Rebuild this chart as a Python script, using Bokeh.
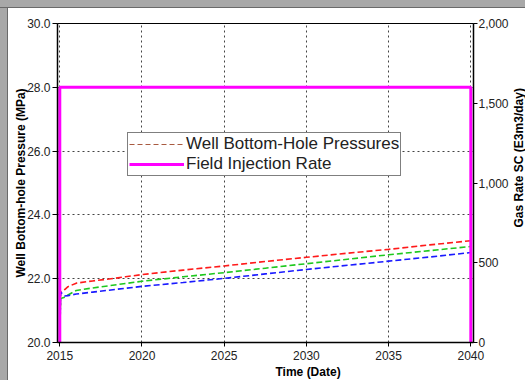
import math
from bokeh.plotting import figure
from bokeh.layouts import column, row
from bokeh.core.properties import value
from bokeh.models import (Range1d, LinearAxis, FixedTicker, NumeralTickFormatter,
                          Legend, LegendItem, Title, PrintfTickFormatter, Spacer)
from bokeh.embed import file_html
from bokeh.resources import INLINE

# ---- data ----
years = [2015.0, 2015.05, 2015.3, 2015.5, 2016, 2017, 2018, 2019, 2020,
         2022.5, 2025, 2027.5, 2030, 2032.5, 2035, 2037.5, 2040]
bhp_red = [20.3, 21.58, 21.66, 21.75, 21.86, 21.93, 21.99, 22.06, 22.13,
           22.27, 22.40, 22.54, 22.67, 22.80, 22.92, 23.06, 23.19]
bhp_green = [20.2, 21.38, 21.42, 21.49, 21.63, 21.71, 21.78, 21.85, 21.92,
             22.06, 22.19, 22.33, 22.47, 22.61, 22.75, 22.88, 23.01]
bhp_blue = [20.05, 21.58, 21.46, 21.47, 21.52, 21.58, 21.64, 21.70, 21.76,
            21.88, 22.01, 22.15, 22.29, 22.42, 22.55, 22.68, 22.82]
inj_years = [2015.0, 2015.0, 2040.0, 2040.0]
inj_rate = [0, 1600, 1600, 0]

x_ticks = [2015, 2020, 2025, 2030, 2035, 2040]
y_ticks = [20, 22, 24, 26, 28, 30]
y2_ticks = [0, 500, 1000, 1500, 2000]
legend_labels = ["Well Bottom-Hole Pressures", "Field Injection Rate"]
x_title = "Time (Date)"
y_title = "Well Bottom-hole Pressure (MPa)"
y2_title = "Gas Rate SC (E3m3/day)"

FONT = "Liberation Sans"
RATE_MAX = 2000

# layout (pixels)
H = 372
B_TOP, B_BOT = 15, 38
FRAME_H = H - B_TOP - B_BOT
P_W = 503            # main figure width
T_W = 517 - P_W      # strip holding the right-hand axis title

p = figure(width=P_W, height=H, output_backend="svg", toolbar_location=None,
           x_range=Range1d(2014.861, 2040.163), y_range=Range1d(20, 30),
           min_border_left=49, min_border_right=P_W - 49 - 418,
           min_border_top=B_TOP, min_border_bottom=B_BOT)
p.background_fill_color = "white"
p.border_fill_color = "white"
p.outline_line_color = "black"
p.outline_line_width = 1
p.extra_y_ranges = {"rate": Range1d(0, RATE_MAX)}

# axes
for ax in [p.xaxis[0], p.yaxis[0]]:
    ax.axis_line_color = "black"
    ax.axis_line_width = 1.5
    ax.major_tick_line_color = "black"
    ax.major_tick_in = 0
    ax.major_tick_out = 5
    ax.minor_tick_line_color = None
    ax.major_label_text_font = FONT
    ax.major_label_text_font_size = "12px"
    ax.major_label_text_color = "#222"
    ax.major_label_standoff = 2

p.xaxis[0].ticker = FixedTicker(ticks=x_ticks)
p.xaxis[0].major_tick_out = 4
p.xaxis[0].major_label_standoff = 4
p.yaxis[0].ticker = FixedTicker(ticks=y_ticks)
p.yaxis[0].formatter = PrintfTickFormatter(format="%.1f")
p.yaxis[0].axis_label = y_title
p.yaxis[0].axis_label_text_font = FONT
p.yaxis[0].axis_label_text_font_size = "12px"
p.yaxis[0].axis_label_text_font_style = "bold"
p.yaxis[0].axis_label_text_color = "black"
p.yaxis[0].axis_label_standoff = -4

rax = LinearAxis(y_range_name="rate", ticker=FixedTicker(ticks=y2_ticks),
                 formatter=NumeralTickFormatter(format="0,0"))
rax.axis_line_color = "black"
rax.axis_line_width = 1.5
rax.major_tick_line_color = "black"
rax.major_tick_in = 0
rax.major_tick_out = 4
rax.minor_tick_line_color = None
rax.major_label_text_font = FONT
rax.major_label_text_font_size = "12px"
rax.major_label_text_color = "#222"
rax.major_label_standoff = 1
p.add_layout(rax, "right")

# bottom title (offset from the frame's left edge)
p.add_layout(Title(text=x_title, align="left", offset=218, standoff=0,
                   text_font=FONT, text_font_size="12px",
                   text_font_style="bold", text_color="black"), "below")

# grid
p.xgrid.ticker = FixedTicker(ticks=x_ticks)
p.ygrid.ticker = FixedTicker(ticks=y_ticks)
for g in [p.xgrid[0], p.ygrid[0]]:
    g.grid_line_color = "#444444"
    g.grid_line_dash = "2 3"
    g.grid_line_width = 1

# pressure curves
p.line(years, bhp_red, line_color="#ff1a1a", line_width=1.6, line_dash="6 3")
p.line(years, bhp_green, line_color="#1ec81e", line_width=1.6, line_dash="6 3")
p.line(years, bhp_blue, line_color="#1a1aff", line_width=1.6, line_dash="6 3")

# legend stand-in for the pressure group (placed outside the visible x range)
dummy = p.line([2000, 2001], [25, 25], line_color="#a85a40", line_width=1.2,
               line_dash="5 3")

# injection rate
inj = p.line(inj_years, inj_rate, y_range_name="rate", line_color="#ff00ff",
             line_width=3)

legend = Legend(items=[LegendItem(label=legend_labels[0], renderers=[dummy]),
                       LegendItem(label=legend_labels[1], renderers=[inj])],
                location=(70, 166))
legend.label_text_font = FONT
legend.label_text_font_size = "17px"
legend.label_text_color = "#222"
legend.glyph_width = 55
legend.glyph_height = 20
legend.label_height = 20
legend.label_standoff = 2
legend.padding = 1
legend.spacing = 0
legend.margin = 0
legend.border_line_color = "black"
legend.border_line_width = 1
legend.background_fill_color = "white"
legend.background_fill_alpha = 1
p.add_layout(legend, "center")

# narrow strip with the right-hand axis title (reads bottom to top),
# vertically on the same rate scale as the main frame
ppu = FRAME_H / RATE_MAX
ttl = figure(width=T_W, height=H, output_backend="svg", toolbar_location=None,
             x_range=Range1d(0, T_W), y_range=Range1d(0, RATE_MAX),
             x_axis_type=None, y_axis_type=None,
             min_border_left=0, min_border_right=0,
             min_border_top=B_TOP, min_border_bottom=B_BOT)
ttl.outline_line_color = None
ttl.background_fill_color = "white"
ttl.border_fill_color = "white"
ttl.grid.visible = False
ttl.text(x=[T_W / 2], y=[184.7 / ppu], text=[y2_title], angle=math.pi / 2,
         text_align="center", text_baseline="middle",
         text_font=value(FONT), text_font_size=value("12px"),
         text_font_style="bold", text_color="black")

grey = "#a8a8a8"
top_strip = Spacer(width=525, height=8,
                   styles={"background-color": grey,
                           "box-shadow": "inset 0 -1px 0 #6a6a6a"})
left_strip = Spacer(width=8, height=H,
                    styles={"background-color": grey,
                            "box-shadow": "inset -1px 0 0 #6a6a6a"})
page = column(top_strip, row(left_strip, p, ttl, spacing=0), spacing=0)

open("out.html", "w").write(file_html(page, INLINE))
